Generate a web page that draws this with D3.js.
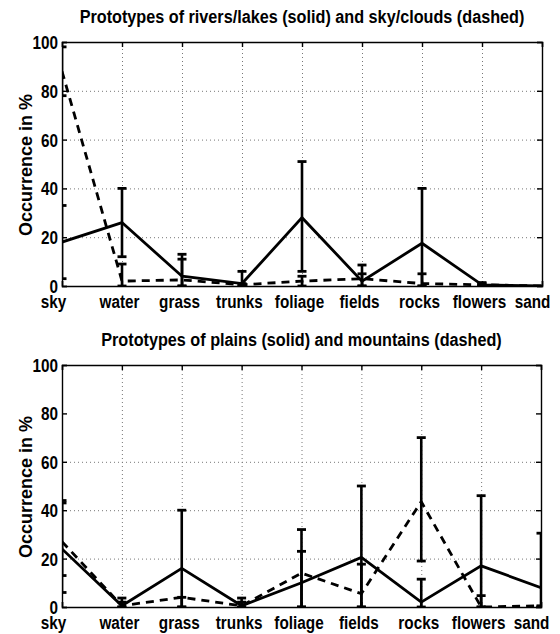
<!DOCTYPE html>
<html>
<head>
<meta charset="utf-8">
<script src="https://cdn.jsdelivr.net/npm/d3@7"></script>
<style>
  html, body { margin: 0; padding: 0; background: #fff; }
  svg { display: block; }
  text { font-family: "Liberation Sans", Arial, Helvetica, sans-serif; fill: #000; }
</style>
</head>
<body>
<svg id="chart" width="560" height="634"></svg>
<script>
// ---------- data ----------
const categories = ["sky", "water", "grass", "trunks", "foliage", "fields", "rocks", "flowers", "sand"];
const yTicks = [0, 20, 40, 60, 80, 100];

// Panel 1: rivers/lakes (solid) and sky/clouds (dashed)
const title1 = "Prototypes of rivers/lakes (solid) and sky/clouds (dashed)";
const riversMean = [18, 26, 4, 1, 28, 2, 17.5, 0.5, 0];
const riversLow  = [3, 12, 0, 0, 6, 0, 0, 0, 0];
const riversHigh = [33, 40, 13, 6, 51, 8.6, 40, 1.4, 0];
const skyMean    = [88, 2, 2.5, 0.5, 2, 3, 1, 0.5, 0];
const skyLow     = [78, 0, 0, 0, 0, 0, 0, 0, 0];
const skyHigh    = [98, 9, 11, 1, 4, 5, 5, 1, 0];
const grid1      = [20, 40, 60, 80];

// Panel 2: plains (solid) and mountains (dashed)
const title2 = "Prototypes of plains (solid) and mountains (dashed)";
const plainsMean = [24, 0.5, 16, 0.5, 10, 20.5, 2, 17, 8];
const plainsLow  = [6, 0, 0, 0, 0, 0, 0, 0, 0];
const plainsHigh = [43, 3.7, 40, 3.7, 32, 50, 11.5, 46, 30.5];
const mountMean  = [27, 0.5, 4, 0.5, 14, 5.5, 43.5, 0, 0.5];
const mountLow   = [13, 0, 0, 0, 0, 0, 19, 0, 0];
const mountHigh  = [44, 2, 4, 2, 23, 17.7, 70, 4.7, 0.5];
const grid2      = [20, 40, 60];

const yLabel = "Occurrence in %";

// ---------- drawing ----------
const svg = d3.select("#chart");
const FONT = '"Liberation Sans", Arial, Helvetica, sans-serif';

function condense(sel, factor) {
  sel.each(function () {
    const len = this.getComputedTextLength();
    if (len > 0) {
      d3.select(this).attr("textLength", len * factor).attr("lengthAdjust", "spacingAndGlyphs");
    }
  });
}

function panel(box, title, s1, s2, gridVals) {
  const x = d3.scalePoint().domain(categories).range([box.left, box.right]).padding(0);
  const y = d3.scaleLinear().domain([0, 100]).range([box.bottom, box.top]);
  const g = svg.append("g");
  const W = box.right - box.left, H = box.bottom - box.top;

  // grid
  const gx = g.append("g").attr("transform", `translate(0,${box.bottom})`)
    .call(d3.axisBottom(x).tickValues(categories.slice(1, -1)).tickSize(-H).tickFormat(""));
  const gy = g.append("g").attr("transform", `translate(${box.left},0)`)
    .call(d3.axisLeft(y).tickValues(gridVals).tickSize(-W).tickFormat(""));
  [gx, gy].forEach(a => {
    a.select(".domain").remove();
    a.selectAll("line").attr("stroke", "#777").attr("stroke-width", 1).attr("stroke-dasharray", "1,3");
  });

  // clip
  const cid = "clip" + Math.round(box.top);
  svg.append("clipPath").attr("id", cid).append("rect")
    .attr("x", box.left).attr("y", box.top - 2).attr("width", W).attr("height", H + 2);
  const plot = g.append("g").attr("clip-path", `url(#${cid})`);

  // series
  [s1, s2].forEach(s => {
    const pts = categories.map((c, i) => ({ c, m: s.mean[i], lo: s.low[i], hi: s.high[i] }));
    const line = d3.line().x(d => x(d.c)).y(d => y(d.m));
    plot.append("path").datum(pts).attr("d", line)
      .attr("fill", "none").attr("stroke", "#000").attr("stroke-width", 2.8)
      .attr("stroke-dasharray", s.dashed ? "8,6" : null);
    const eb = plot.append("g").selectAll("g").data(pts.filter(d => d.hi > d.lo)).join("g");
    eb.append("line").attr("x1", d => x(d.c)).attr("x2", d => x(d.c))
      .attr("y1", d => y(d.lo)).attr("y2", d => y(d.hi))
      .attr("stroke", "#000").attr("stroke-width", 2.6);
    ["lo", "hi"].forEach(k => {
      eb.append("line").attr("x1", d => x(d.c) - 4.5).attr("x2", d => x(d.c) + 4.5)
        .attr("y1", d => y(d[k])).attr("y2", d => y(d[k]))
        .attr("stroke", "#000").attr("stroke-width", 2.8);
    });
  });

  // axes box with inward ticks
  const left = g.append("g").attr("transform", `translate(${box.left},0)`)
    .call(d3.axisLeft(y).tickValues(yTicks).tickSize(-5).tickPadding(4));
  const right = g.append("g").attr("transform", `translate(${box.right},0)`)
    .call(d3.axisRight(y).tickValues(yTicks).tickSize(-5).tickFormat(""));
  const bottom = g.append("g").attr("transform", `translate(0,${box.bottom})`)
    .call(d3.axisBottom(x).tickSize(-5).tickPadding(9));
  const top = g.append("g").attr("transform", `translate(0,${box.top})`)
    .call(d3.axisTop(x).tickSize(-5).tickFormat(""));
  [left, right, bottom, top].forEach(a => {
    a.select(".domain").attr("stroke", "#000").attr("stroke-width", 1.4);
    a.selectAll(".tick line").attr("stroke", "#000").attr("stroke-width", 1.4);
  });
  left.selectAll("text").attr("font-size", 18).attr("font-weight", "bold")
    .attr("font-family", FONT).attr("dy", "0.36em");
  condense(left.selectAll("text"), 0.85);
  const nCat = categories.length;
  bottom.selectAll("text").attr("font-size", 18).attr("font-weight", "bold")
    .attr("font-family", FONT).attr("dy", "0.72em")
    .attr("dx", (d, i) => i === 0 ? -9 : (i === nCat - 1 ? -10 : -3));
  condense(bottom.selectAll("text"), 0.85);

  // title
  const t = g.append("text").attr("x", (box.left + box.right) / 2).attr("y", box.top - 19)
    .attr("text-anchor", "middle").attr("font-size", 18).attr("font-weight", "bold")
    .text(title);
  condense(t, 0.9);

  // y label
  g.append("text").attr("transform", `translate(${box.left - 30},${(box.top + box.bottom) / 2 + 1}) rotate(-90)`)
    .attr("text-anchor", "middle").attr("font-size", 18).attr("font-weight", "bold")
    .text(yLabel);
}

panel({ left: 62, right: 542, top: 42, bottom: 286 }, title1,
  { mean: riversMean, low: riversLow, high: riversHigh, dashed: false },
  { mean: skyMean, low: skyLow, high: skyHigh, dashed: true }, grid1);

panel({ left: 62, right: 541, top: 365, bottom: 607 }, title2,
  { mean: plainsMean, low: plainsLow, high: plainsHigh, dashed: false },
  { mean: mountMean, low: mountLow, high: mountHigh, dashed: true }, grid2);
</script>
</body>
</html>
